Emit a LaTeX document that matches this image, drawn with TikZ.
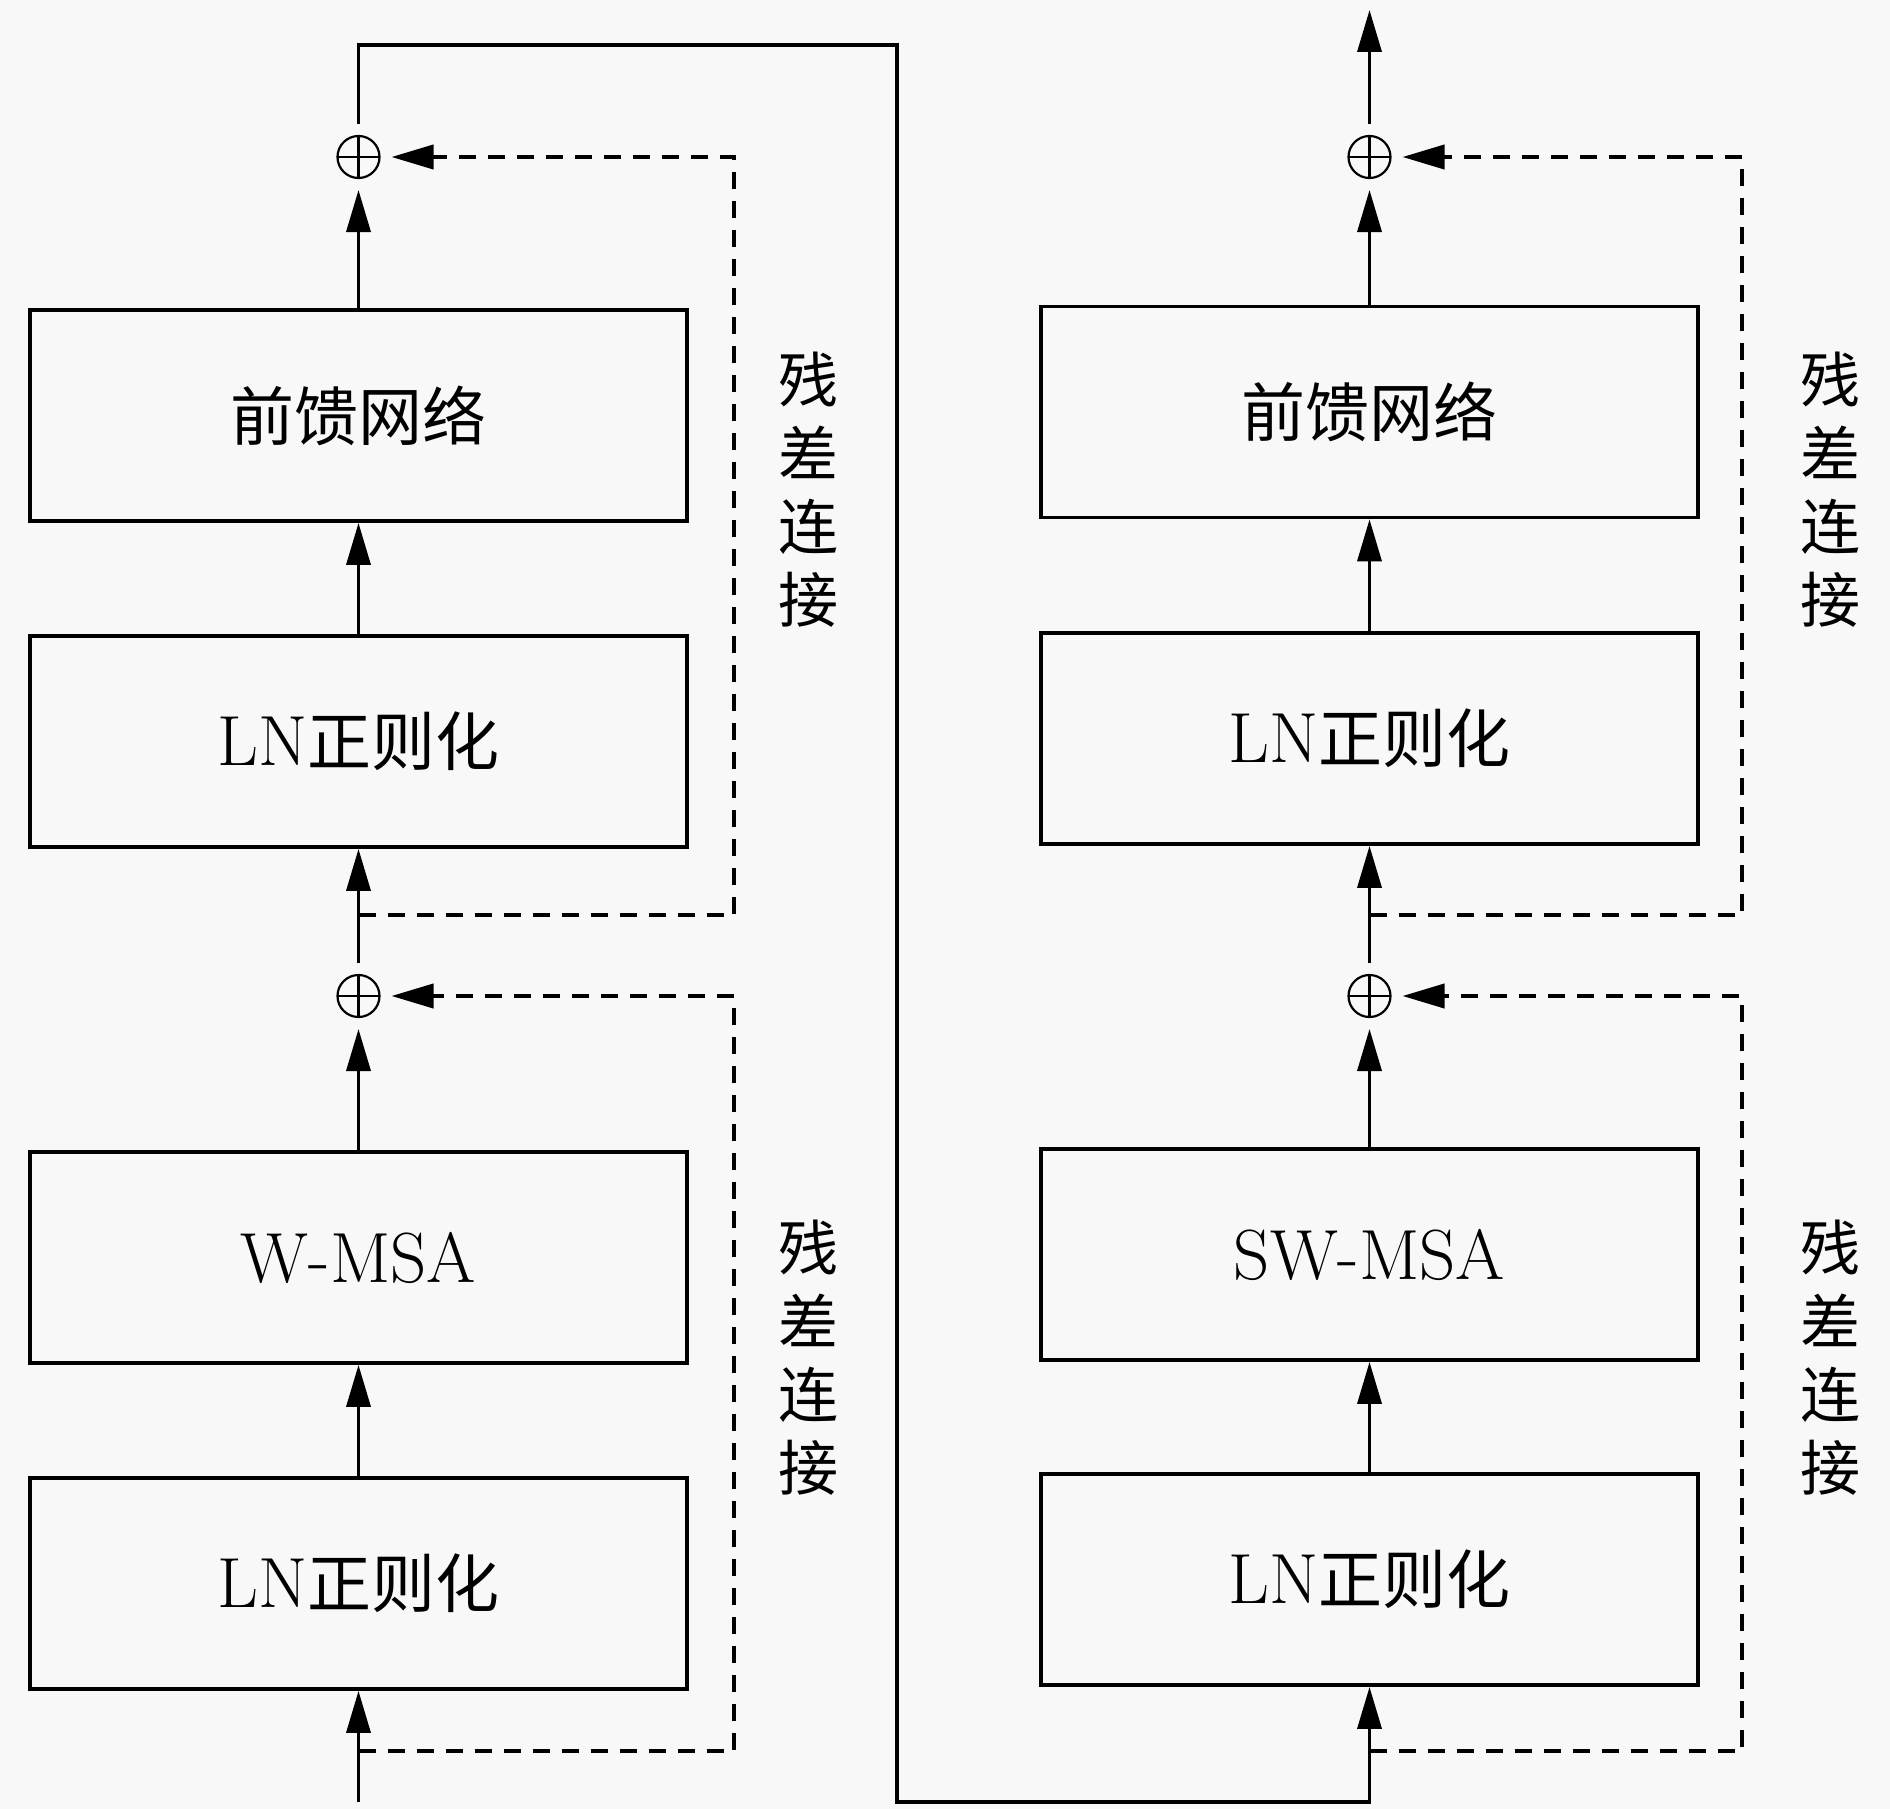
\documentclass[tikz,border=0pt]{standalone}
\usepackage{fontspec}
\newfontfamily\cjk{Noto Sans CJK SC}
\usetikzlibrary{arrows.meta}
\definecolor{bgc}{RGB}{248,248,248}
\newcommand{\latn}{\fontsize{35.5}{40}\selectfont}
\begin{document}
\begin{tikzpicture}[x=0.5pt,y=-0.5pt,
  box/.style={draw, line width=1.9pt, minimum width=328.5pt, minimum height=105.5pt, inner sep=0pt, font=\fontsize{32}{38}\selectfont},
  conn/.style={line width=1.8pt, -{Triangle[length=21pt,width=12pt]}},
  resid/.style={line width=2pt, dash pattern=on 8.5pt off 6pt, -{Triangle[length=21pt,width=12pt]}},
  sumnode/.style={circle, draw, line width=1.1pt, minimum size=21pt, inner sep=0pt, outer sep=6pt,
    path picture={\draw[line width=1.1pt] (path picture bounding box.north) -- (path picture bounding box.south) (path picture bounding box.west) -- (path picture bounding box.east);}},
  lbl/.style={align=center, font=\fontsize{30}{36.7}\selectfont\cjk, inner sep=0pt}
]
\fill[bgc] (0,0) rectangle (1890,1809);
\useasboundingbox (0,0) rectangle (1890,1809);

% left column
\node[box] (l1) at (358.5,415.5) {\cjk 前馈网络};
\node[box] (l2) at (358.5,741.5) {{\latn LN}{\cjk 正则化}};
\node[box] (l3) at (358.5,1257.5) {\latn W-MSA};
\node[box] (l4) at (358.5,1583.5) {{\latn LN}{\cjk 正则化}};
\node[sumnode] (ls1) at (358.5,996) {};
\node[sumnode] (ls2) at (358.5,157) {};

% right column
\node[box] (r1) at (1369.5,412) {\cjk 前馈网络};
\node[box] (r2) at (1369.5,738.5) {{\latn LN}{\cjk 正则化}};
\node[box] (r3) at (1369.5,1254.5) {\latn SW-MSA};
\node[box] (r4) at (1369.5,1579.5) {{\latn LN}{\cjk 正则化}};
\node[sumnode] (rs1) at (1369.5,996) {};
\node[sumnode] (rs2) at (1369.5,157) {};

% labels
\node[lbl] (t1) at (808,490) {残\\差\\连\\接};
\node[lbl] (t2) at (808,1358) {残\\差\\连\\接};
\node[lbl] (t3) at (1830,490) {残\\差\\连\\接};
\node[lbl] (t4) at (1830,1358) {残\\差\\连\\接};

% coordinates
\coordinate (lin) at (358.5,1802);
\coordinate (lb1) at (358.5,1751);
\coordinate (lb2) at (358.5,915);
\coordinate (rb1) at (1369.5,1751);
\coordinate (rb2) at (1369.5,915);
\coordinate (c1) at (358.5,45);
\coordinate (c2) at (897,45);
\coordinate (c3) at (897,1802);
\coordinate (c4) at (1369.5,1802);
\coordinate (rout) at (1369.5,10);

% left connectors
\draw[conn] (lin) -- (l4.south);
\draw[conn] (l4.north) -- (l3.south);
\draw[conn] (l3.north) -- (ls1.south);
\draw[conn] (ls1.north) -- (l2.south);
\draw[conn] (l2.north) -- (l1.south);
\draw[conn] (l1.north) -- (ls2.south);
\draw[resid] (lb1) -- ++(375.5,0) |- (ls1.east);
\draw[resid] (lb2) -- ++(375.5,0) |- (ls2.east);

% link between blocks
\draw[conn] (ls2.north) -- (c1) -- (c2) -- (c3) -- (c4) -- (r4.south);

% right connectors
\draw[conn] (r4.north) -- (r3.south);
\draw[conn] (r3.north) -- (rs1.south);
\draw[conn] (rs1.north) -- (r2.south);
\draw[conn] (r2.north) -- (r1.south);
\draw[conn] (r1.north) -- (rs2.south);
\draw[conn] (rs2.north) -- (rout);
\draw[resid] (rb1) -- ++(372.5,0) |- (rs1.east);
\draw[resid] (rb2) -- ++(372.5,0) |- (rs2.east);
\end{tikzpicture}
\end{document}
